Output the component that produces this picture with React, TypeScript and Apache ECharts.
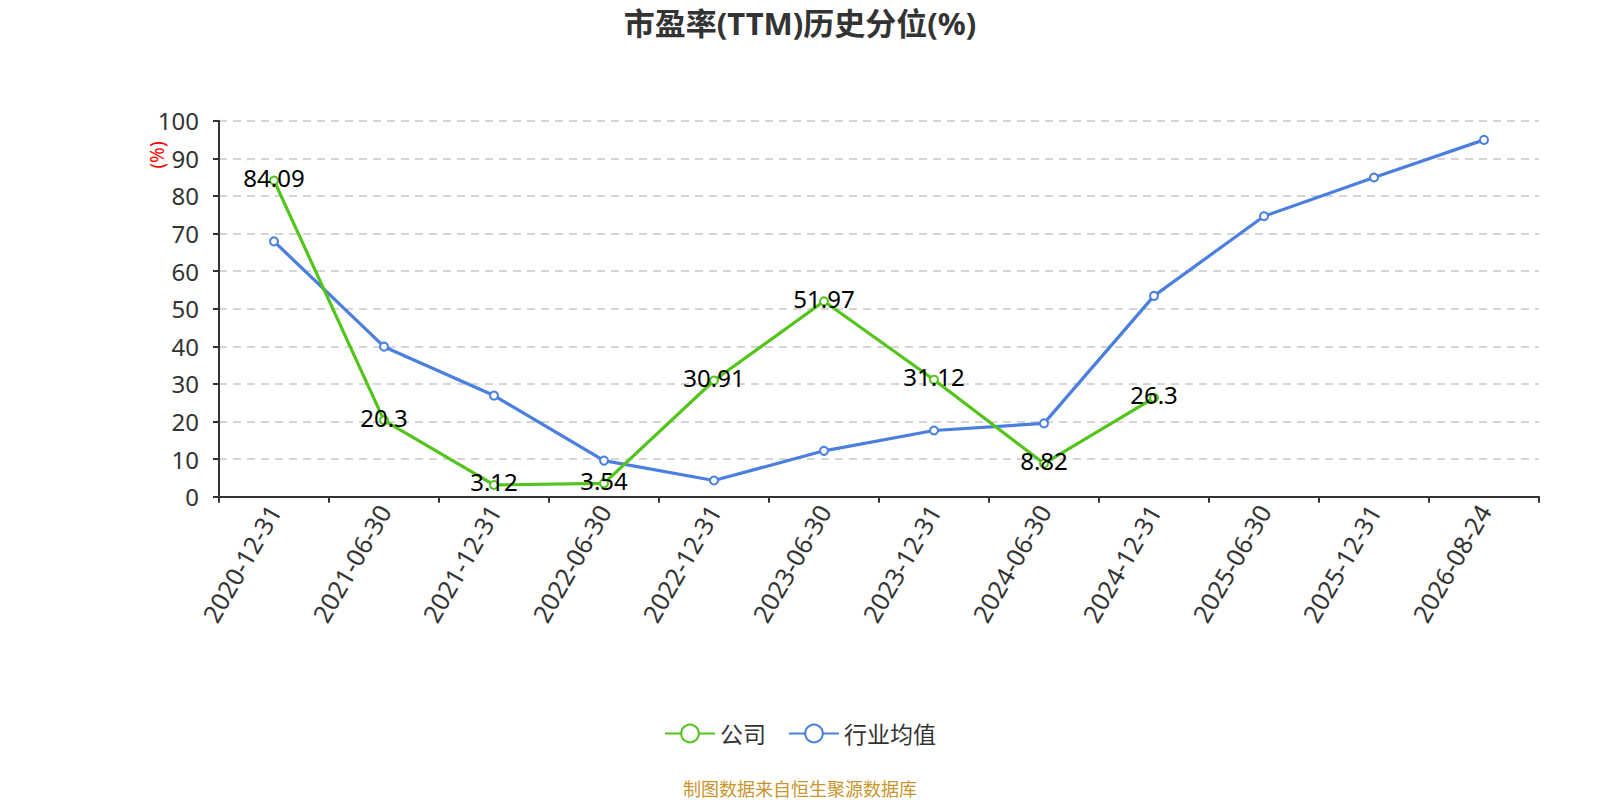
import React, { useEffect, useRef } from "react";
import * as echarts from "echarts";

const categories = [
  "2020-12-31", "2021-06-30", "2021-12-31", "2022-06-30", "2022-12-31", "2023-06-30",
  "2023-12-31", "2024-06-30", "2024-12-31", "2025-06-30", "2025-12-31", "2026-08-24",
];
const companyValues: (number | null)[] = [84.09, 20.3, 3.12, 3.54, 30.91, 51.97, 31.12, 8.82, 26.3, null, null, null];
const industryValues = [67.9, 39.9, 26.9, 9.6, 4.3, 12.2, 17.6, 19.5, 53.4, 74.6, 84.9, 94.9];
const yTicks = { min: 0, max: 100, interval: 10 };

const FONT = '"Noto Sans", "Noto Sans CJK SC", sans-serif';

export default function App() {
  const ref = useRef<HTMLDivElement>(null);
  useEffect(() => {
    if (!ref.current) return;
    const chart = echarts.init(ref.current, null, { renderer: "svg" });
    chart.setOption({
      animation: false,
      textStyle: { fontFamily: FONT },
      title: {
        text: "市盈率(TTM)历史分位(%)",
        left: "center",
        top: 2,
        textStyle: { fontSize: 31, fontWeight: "bold", color: "#333", fontFamily: FONT },
      },
      grid: { left: 219, right: 61, top: 120.7, bottom: 303.3, containLabel: false },
      legend: {
        bottom: 50,
        left: "center",
        itemWidth: 50,
        itemHeight: 22,
        itemGap: 22,
        textStyle: { fontSize: 23, color: "#333", fontFamily: FONT },
        data: ["公司", "行业均值"],
      },
      xAxis: {
        type: "category",
        data: categories,
        boundaryGap: true,
        axisLine: { lineStyle: { color: "#333", width: 2 } },
        axisTick: { show: true, alignWithLabel: false, length: 6, lineStyle: { color: "#333", width: 2 } },
        axisLabel: { rotate: 60, fontSize: 25, color: "#333", margin: 10, interval: 0, fontFamily: FONT },
      },
      yAxis: {
        type: "value",
        min: yTicks.min,
        max: yTicks.max,
        interval: yTicks.interval,
        axisLine: { show: true, lineStyle: { color: "#333", width: 2 } },
        axisTick: { show: true, length: 6, lineStyle: { color: "#333", width: 2 } },
        axisLabel: { fontSize: 24, color: "#333", margin: 20, fontFamily: FONT },
        splitLine: { show: true, lineStyle: { type: [8, 6], color: "#c8c8c8", width: 1.5 } },
      },
      graphic: [
        {
          type: "text",
          x: 157,
          y: 155,
          rotation: Math.PI / 2,
          style: {
            text: "(%)",
            fill: "#ff0000",
            font: `19px ${FONT}`,
            align: "center",
            verticalAlign: "middle",
          },
        },
        {
          type: "text",
          x: 800,
          y: 789,
          style: {
            text: "制图数据来自恒生聚源数据库",
            fill: "#c8952c",
            font: `18px ${FONT}`,
            align: "center",
            verticalAlign: "middle",
          },
        },
      ],
      series: [
        {
          name: "公司",
          type: "line",
          data: companyValues,
          symbol: "emptyCircle",
          symbolSize: 8,
          itemStyle: { color: "#52c41a" },
          lineStyle: { width: 3.2, color: "#52c41a" },
          label: {
            show: true,
            position: "inside",
            offset: [0, -3],
            fontSize: 24,
            color: "#000",
            fontFamily: FONT,
          },
          z: 3,
        },
        {
          name: "行业均值",
          type: "line",
          data: industryValues,
          symbol: "emptyCircle",
          symbolSize: 8,
          itemStyle: { color: "#4a7fe0" },
          lineStyle: { width: 3.2, color: "#4a7fe0" },
          label: { show: false },
          z: 2,
        },
      ],
    });
    return () => chart.dispose();
  }, []);
  return (
    <div
      ref={ref}
      style={{ position: "absolute", left: 0, top: 0, width: 1600, height: 800, background: "#fff" }}
    />
  );
}
